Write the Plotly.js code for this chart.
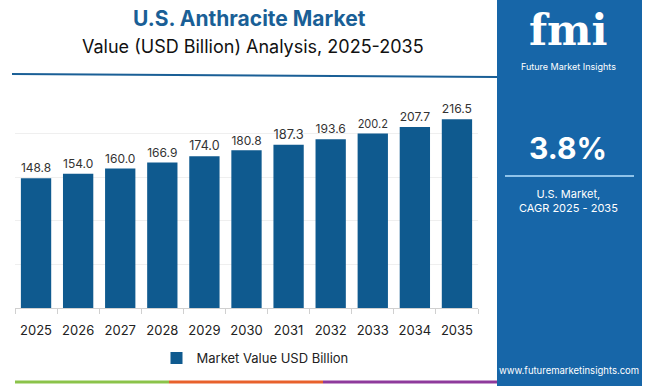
<!DOCTYPE html>
<html><head><meta charset="utf-8">
<script src="https://cdn.plot.ly/plotly-3.0.1.min.js"></script>
<style>html,body{margin:0;padding:0;background:#fff}#chart{width:650px;height:386px}</style>
</head><body><div id="chart"></div>
<script>
const years = ['2025','2026','2027','2028','2029','2030','2031','2032','2033','2034','2035'];
const values = [148.8,154.0,160.0,166.9,174.0,180.8,187.3,193.6,200.2,207.7,216.5];
const valueLabels = ['148.8','154.0','160.0','166.9','174.0','180.8','187.3','193.6','200.2','207.7','216.5'];
const seriesName = 'Market Value USD Billion';
const titleText = 'U.S. Anthracite Market';
const subtitleText = 'Value (USD Billion) Analysis, 2025-2035';
const cagrText = '3.8%';
const cagrCaption = 'U.S. Market,<br>CAGR 2025 - 2035';
const siteText = 'www.futuremarketinsights.com';

const W=650,H=386,L=15,R=172,T=90,B=78;
const pw=W-L-R, ph=H-T-B;
const px=x=>(x-L)/pw, py=y=>(H-B-y)/ph;
const FONT='Inter, "Open Sans", sans-serif';
const BLUE='#0f5a8f', PANEL='#1766a8';

const trace={type:'bar',x:years,y:values,name:seriesName,text:valueLabels,textposition:'outside',
  cliponaxis:false,marker:{color:BLUE},textfont:{family:FONT,size:13,color:'#333'},showlegend:true,hoverinfo:'none'};

const shapes=[
  {type:'rect',xref:'paper',yref:'paper',x0:px(497),x1:px(642),y0:py(0),y1:py(386),fillcolor:PANEL,line:{width:0},layer:'above'},
  {type:'line',xref:'paper',yref:'paper',x0:px(12),x1:px(497),y0:py(74),y1:py(77),line:{color:'#1a5f96',width:2}},
  {type:'line',xref:'paper',yref:'paper',x0:px(505),x1:px(634),y0:py(176),y1:py(176),line:{color:'#8fc3ea',width:2},layer:'above'},
  {type:'line',xref:'paper',yref:'paper',x0:px(15),x1:px(169),y0:py(382),y1:py(382),line:{color:'#8bc34a',width:3}},
  {type:'line',xref:'paper',yref:'paper',x0:px(169),x1:px(323),y0:py(382),y1:py(382),line:{color:'#e8612c',width:3}},
  {type:'line',xref:'paper',yref:'paper',x0:px(323),x1:px(497),y0:py(382),y1:py(382),line:{color:'#8e3a9c',width:3}}
];
const ann=(x,y,text,size,color,extra)=>Object.assign({xref:'paper',yref:'paper',x:px(x),y:py(y),text,showarrow:false,
  xanchor:'center',yanchor:'middle',font:{family:FONT,size,color}},extra||{});
const annotations=[
  ann(249,18,'<b>'+titleText+'</b>',21,'#1a5f96'),
  ann(253,47,subtitleText,18,'#111'),
  ann(568,30,'<b>fmi</b>',42,'#ffffff',{font:{family:'"DejaVu Serif", serif',size:42,color:'#ffffff'}}),
  ann(568,66,'Future Market Insights',9,'#ffffff'),
  ann(568,148,'<b>'+cagrText+'</b>',30,'#ffffff'),
  ann(568,201,cagrCaption,11,'#ffffff'),
  ann(569,370,siteText,9.5,'#ffffff')
];

const layout={width:W,height:H,margin:{l:L,r:R,t:T,b:B},paper_bgcolor:'#fff',plot_bgcolor:'#fff',
  bargap:0.28,
  xaxis:{type:'category',showline:true,linecolor:'#d0d0d0',ticks:'outside',tickson:'boundaries',ticklen:5,tickcolor:'#d0d0d0',
    tickangle:0,ticklabelstandoff:10,tickfont:{family:FONT,size:13,color:'#222'},showgrid:false,fixedrange:true},
  yaxis:{range:[0,250],dtick:50,showgrid:true,gridcolor:'#efefef',showticklabels:false,zeroline:false,fixedrange:true},
  showlegend:true,
  legend:{orientation:'h',xref:'paper',yref:'paper',x:px(255),xanchor:'center',y:py(358),yanchor:'middle',
    font:{family:FONT,size:13,color:'#222'}},
  shapes,annotations};
Plotly.newPlot('chart',[trace],layout,{displayModeBar:false,staticPlot:true});
</script></body></html>
